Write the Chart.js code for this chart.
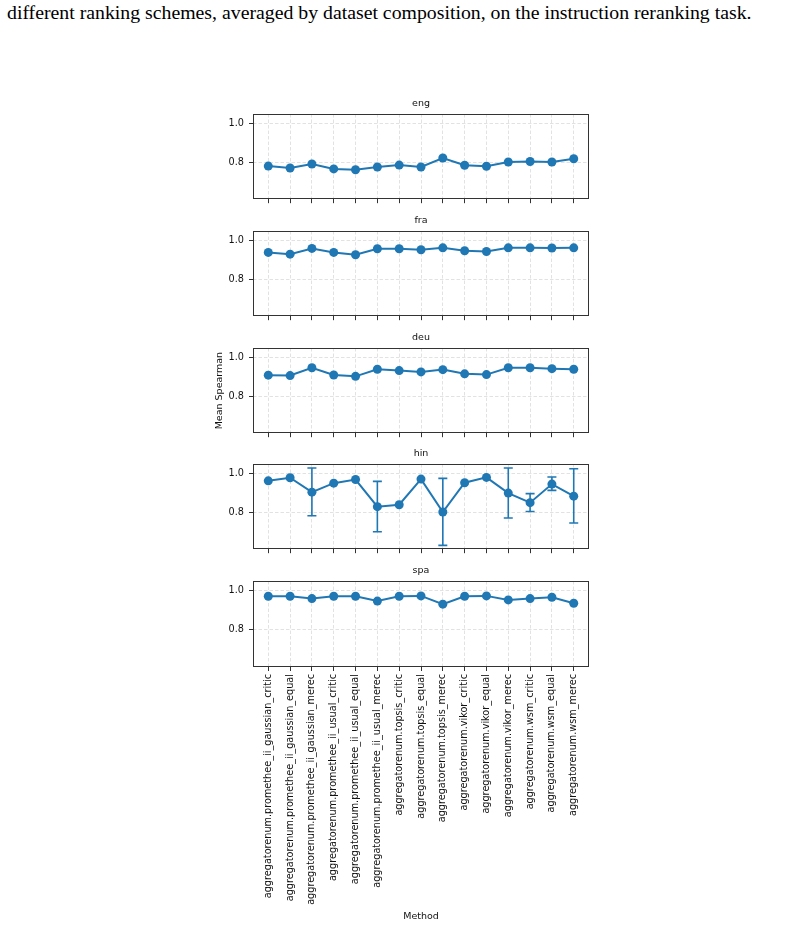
<!DOCTYPE html>
<html>
<head>
<meta charset="utf-8">
<script src="https://cdn.jsdelivr.net/npm/chart.js@4.4.0/dist/chart.umd.min.js"></script>
<style>
  body { margin: 0; background: #fff; width: 798px; height: 926px; position: relative; overflow: hidden; }
  .caption { position: absolute; left: 7px; top: 2px; font-family: "Liberation Serif", "Times New Roman", serif; font-size: 19.8px; line-height: 20px; white-space: nowrap; color: #000; }
  canvas { position: absolute; left: 200px; }
</style>
</head>
<body>
<div class="caption">different ranking schemes, averaged by dataset composition, on the instruction reranking task.</div>
<canvas id="c-eng" width="400" height="116" style="top:94px"></canvas>
<canvas id="c-fra" width="400" height="116" style="top:211px"></canvas>
<canvas id="c-deu" width="400" height="116" style="top:328px"></canvas>
<canvas id="c-hin" width="400" height="116" style="top:444px"></canvas>
<canvas id="c-spa" width="400" height="365" style="top:561px"></canvas>
<script>
const methods = [
  "aggregatorenum.promethee_ii_gaussian_critic",
  "aggregatorenum.promethee_ii_gaussian_equal",
  "aggregatorenum.promethee_ii_gaussian_merec",
  "aggregatorenum.promethee_ii_usual_critic",
  "aggregatorenum.promethee_ii_usual_equal",
  "aggregatorenum.promethee_ii_usual_merec",
  "aggregatorenum.topsis_critic",
  "aggregatorenum.topsis_equal",
  "aggregatorenum.topsis_merec",
  "aggregatorenum.vikor_critic",
  "aggregatorenum.vikor_equal",
  "aggregatorenum.vikor_merec",
  "aggregatorenum.wsm_critic",
  "aggregatorenum.wsm_equal",
  "aggregatorenum.wsm_merec"
];

const engScores = [0.779, 0.769, 0.790, 0.764, 0.760, 0.774, 0.784, 0.774, 0.821, 0.783, 0.778, 0.800, 0.803, 0.800, 0.817];
const fraScores = [0.939, 0.930, 0.960, 0.939, 0.927, 0.958, 0.958, 0.953, 0.963, 0.948, 0.944, 0.963, 0.963, 0.962, 0.963];
const deuScores = [0.909, 0.907, 0.948, 0.910, 0.903, 0.940, 0.933, 0.926, 0.938, 0.916, 0.912, 0.948, 0.948, 0.943, 0.940];
const hinScores = [0.963, 0.979, 0.904, 0.951, 0.970, 0.828, 0.838, 0.972, 0.800, 0.953, 0.981, 0.899, 0.849, 0.946, 0.883];
const spaScores = [0.972, 0.972, 0.960, 0.972, 0.972, 0.947, 0.972, 0.974, 0.931, 0.972, 0.974, 0.953, 0.960, 0.967, 0.936];

// error bars on hin only (null = no visible bar)
const hinLower = [null, null, 0.781, null, null, 0.697, null, null, 0.626, null, null, 0.769, 0.803, 0.913, 0.743];
const hinUpper = [null, null, 1.030, null, null, 0.960, null, null, 0.976, null, null, 1.030, 0.896, 0.983, 1.026];

const yTicks = [0.8, 1.0];

const blue = "#1f77b4";
const textColor = "#111";
const gridColor = "#e2e2e2";
const spineColor = "#333";
const tickFont = { size: 9.7 };

Chart.defaults.font.family = "'DejaVu Sans'";
Chart.defaults.font.size = 9.5;
Chart.defaults.color = textColor;

function framePlugin(title) {
  return {
    id: "frame",
    afterDraw(chart) {
      const { ctx, chartArea: a } = chart;
      ctx.save();
      ctx.strokeStyle = spineColor;
      ctx.lineWidth = 1;
      ctx.strokeRect(Math.round(a.left) + 0.5, Math.round(a.top) + 0.5,
        Math.round(a.right - a.left) - 1, Math.round(a.bottom - a.top) - 1);
      ctx.fillStyle = textColor;
      ctx.font = "9.5px 'DejaVu Sans'";
      ctx.textAlign = "center";
      ctx.textBaseline = "middle";
      ctx.fillText(title, (a.left + a.right) / 2, a.top - 10);
      ctx.restore();
    }
  };
}

function errorBarPlugin(lower, upper) {
  return {
    id: "errbars",
    beforeDatasetsDraw(chart) {
      const { ctx, scales: { x, y } } = chart;
      ctx.save();
      ctx.strokeStyle = blue;
      ctx.lineWidth = 1.6;
      lower.forEach((lo, i) => {
        if (lo == null) return;
        const px = x.getPixelForValue(i);
        const y1 = y.getPixelForValue(lo);
        const y2 = y.getPixelForValue(upper[i]);
        ctx.beginPath();
        ctx.moveTo(px, y1); ctx.lineTo(px, y2);
        ctx.moveTo(px - 4.5, y1); ctx.lineTo(px + 4.5, y1);
        ctx.moveTo(px - 4.5, y2); ctx.lineTo(px + 4.5, y2);
        ctx.stroke();
      });
      ctx.restore();
    }
  };
}

function makeChart(id, title, scores, opts) {
  const isLast = !!opts.isLast;
  const plugins = [framePlugin(title)];
  if (opts.lower) plugins.push(errorBarPlugin(opts.lower, opts.upper));

  new Chart(document.getElementById(id), {
    type: "line",
    data: {
      datasets: [{
        data: scores.map((v, i) => ({ x: i, y: v })),
        borderColor: blue,
        backgroundColor: blue,
        borderWidth: 2,
        pointRadius: 4.5,
        pointBorderWidth: 0,
        pointBackgroundColor: blue,
        tension: 0
      }]
    },
    options: {
      responsive: false,
      animation: false,
      devicePixelRatio: 1,
      layout: { padding: { top: 20, right: 11, bottom: 0, left: 0 } },
      plugins: { legend: { display: false }, tooltip: { enabled: false } },
      scales: {
        x: {
          type: "linear",
          min: -0.7,
          max: 14.7,
          bounds: "data",
          afterBuildTicks: (s) => { s.ticks = methods.map((m, i) => ({ value: i })); },
          afterFit: (s) => { s.height = isLast ? 259 : 10; },
          grid: { color: gridColor, lineWidth: 1, drawTicks: true, tickLength: 4, tickColor: spineColor, tickWidth: 1 },
          border: { display: false, dash: [3.5, 2] },
          ticks: {
            display: isLast,
            autoSkip: false,
            maxRotation: 90,
            minRotation: 90,
            padding: 3,
            font: tickFont,
            callback: (v) => methods[v]
          },
          title: { display: isLast, text: "Method", padding: { top: 4, bottom: 4 } }
        },
        y: {
          min: 0.606,
          max: 1.051,
          bounds: "data",
          afterBuildTicks: (s) => { s.ticks = yTicks.map((v) => ({ value: v })); },
          afterFit: (s) => { s.width = 53; },
          grid: { color: gridColor, lineWidth: 1, drawTicks: true, tickLength: 4, tickColor: spineColor, tickWidth: 1 },
          border: { display: false, dash: [3.5, 2] },
          ticks: { padding: 5, font: tickFont, callback: (v) => v.toFixed(1) },
          title: { display: !!opts.yTitle, text: "Mean Spearman", padding: { top: 14, bottom: 0 } }
        }
      }
    },
    plugins: plugins
  });
}

makeChart("c-eng", "eng", engScores, {});
makeChart("c-fra", "fra", fraScores, {});
makeChart("c-deu", "deu", deuScores, { yTitle: true });
makeChart("c-hin", "hin", hinScores, { lower: hinLower, upper: hinUpper });
makeChart("c-spa", "spa", spaScores, { isLast: true });
</script>
</body>
</html>
